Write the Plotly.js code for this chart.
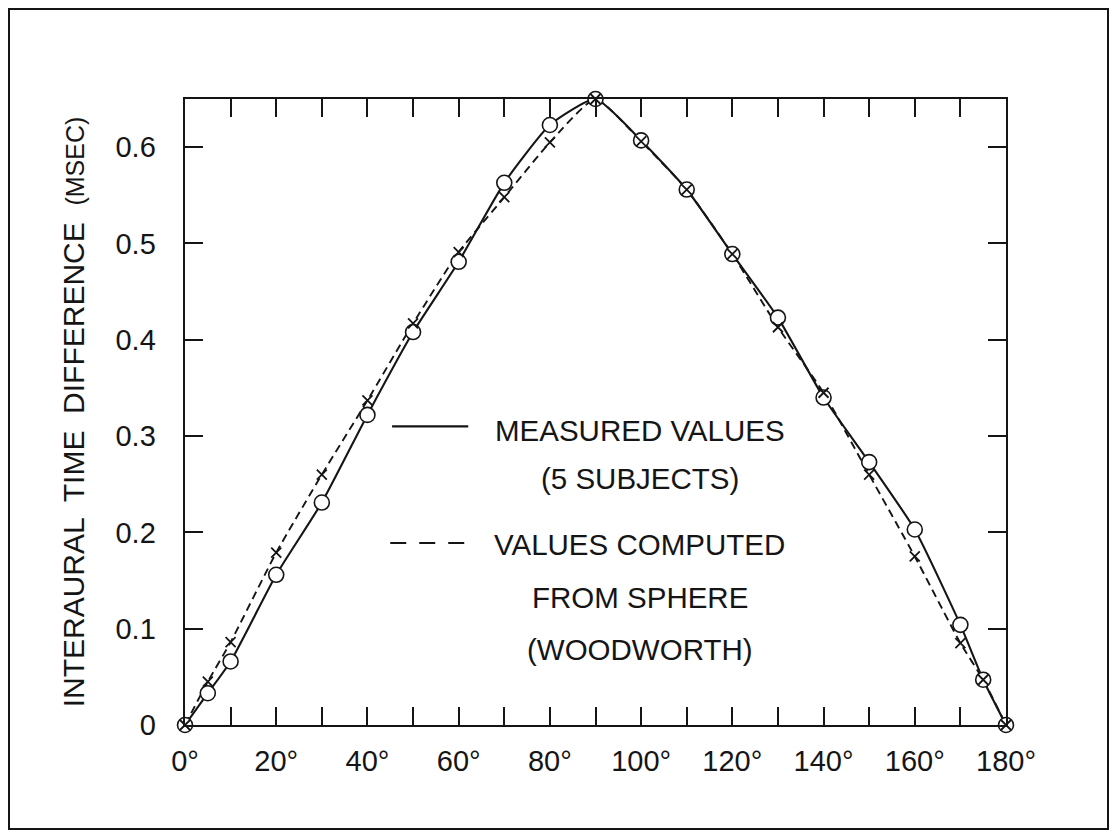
<!DOCTYPE html>
<html>
<head>
<meta charset="utf-8">
<script src="https://cdn.plot.ly/plotly-3.0.1.min.js"></script>
<style>
  html, body { margin: 0; padding: 0; background: #fff; }
  #chart { width: 1117px; height: 838px; }
</style>
</head>
<body>
<div id="chart"></div>
<script>
// Azimuth of the sound source (degrees)
const angles = [0, 5, 10, 20, 30, 40, 50, 60, 70, 80, 90, 100, 110, 120, 130, 140, 150, 160, 170, 175, 180];

// Measured interaural time difference, mean of 5 subjects (msec)
const measuredITD = [0, 0.033, 0.066, 0.156, 0.231, 0.322, 0.408, 0.481, 0.563, 0.623, 0.65,
                     0.607, 0.556, 0.489, 0.423, 0.340, 0.273, 0.203, 0.104, 0.047, 0];

// Interaural time difference computed from a sphere, Woodworth (msec)
const sphereITD = [0, 0.045, 0.086, 0.179, 0.260, 0.337, 0.417, 0.491, 0.548, 0.605, 0.65,
                   0.606, 0.556, 0.489, 0.413, 0.345, 0.260, 0.175, 0.085, 0.047, 0];

// Axis ticks
const xTickVals = [0, 10, 20, 30, 40, 50, 60, 70, 80, 90, 100, 110, 120, 130, 140, 150, 160, 170, 180];
const xTickText = ['0°', '', '20°', '', '40°', '', '60°', '', '80°', '', '100°', '', '120°', '', '140°', '', '160°', '', '180°'];
const yTickVals = [0, 0.1, 0.2, 0.3, 0.4, 0.5, 0.6];
const yTickText = ['0', '0.1', '0.2', '0.3', '0.4', '0.5', '0.6'];

// Legend wording
const legendMeasured = ['MEASURED VALUES', '(5 SUBJECTS)'];
const legendSphere = ['VALUES COMPUTED', 'FROM SPHERE', '(WOODWORTH)'];

const INK = '#151515';
const FONT = 'Liberation Sans, Arial, Helvetica, sans-serif';

const W = 1117, H = 838;
const M = { l: 185, r: 111, t: 99, b: 113 };
// convert page pixels to paper fractions (for the frame around the figure)
const px2x = p => (p - M.l) / (W - M.l - M.r);
const px2y = p => (H - M.b - p) / (H - M.t - M.b);

const traces = [
  {
    // dashed curve, drawn first so the open circles sit above it
    x: angles, y: sphereITD, type: 'scatter', mode: 'lines',
    line: { color: INK, width: 1.9, dash: '8px,5px', shape: 'spline', smoothing: 0.5 },
    hoverinfo: 'skip', showlegend: false, cliponaxis: false
  },
  {
    x: angles, y: measuredITD, type: 'scatter', mode: 'lines+markers',
    line: { color: INK, width: 2.1, shape: 'spline', smoothing: 0.5 },
    marker: { symbol: 'circle', size: 15, color: '#ffffff', line: { color: INK, width: 1.6 } },
    showlegend: false, cliponaxis: false
  },
  {
    x: angles, y: sphereITD, type: 'scatter', mode: 'markers',
    marker: { symbol: 'x-thin', size: 10, color: INK, line: { color: INK, width: 1.8 } },
    showlegend: false, cliponaxis: false
  }
];

const legendFont = { family: FONT, size: 29.5, color: INK };
const annotations = [];
const legendX = 99.7;
[0.306, 0.256].forEach((yv, i) => annotations.push({
  x: legendX, y: yv, xref: 'x', yref: 'y', text: legendMeasured[i], showarrow: false,
  xanchor: 'center', yanchor: 'middle', font: legendFont
}));
[0.187, 0.132, 0.078].forEach((yv, i) => annotations.push({
  x: legendX, y: yv, xref: 'x', yref: 'y', text: legendSphere[i], showarrow: false,
  xanchor: 'center', yanchor: 'middle', font: legendFont
}));

const shapes = [
  // legend line samples
  { type: 'line', xref: 'x', yref: 'y', x0: 45.4, x1: 62.1, y0: 0.310, y1: 0.310,
    line: { color: INK, width: 2.2 } },
  { type: 'line', xref: 'x', yref: 'y', x0: 45.0, x1: 62.1, y0: 0.189, y1: 0.189,
    line: { color: INK, width: 2.2, dash: '16px,13px' } },
  // frame round the whole figure
  { type: 'rect', xref: 'paper', yref: 'paper',
    x0: px2x(9), x1: px2x(1108), y0: px2y(829), y1: px2y(9),
    line: { color: INK, width: 2 }, fillcolor: 'rgba(0,0,0,0)', layer: 'below' }
];

const axisCommon = {
  showline: true, linecolor: INK, linewidth: 2.4, mirror: 'ticks',
  ticks: 'inside', ticklen: 18, tickwidth: 2, tickcolor: INK,
  showgrid: false, zeroline: false, fixedrange: true,
  tickfont: { family: FONT, size: 29, color: INK }
};

const layout = {
  width: W, height: H,
  margin: M,
  paper_bgcolor: '#ffffff', plot_bgcolor: '#ffffff',
  showlegend: false,
  xaxis: Object.assign({}, axisCommon, {
    range: [0, 180], tickmode: 'array', tickvals: xTickVals, ticktext: xTickText,
    ticklabelstandoff: 9
  }),
  yaxis: Object.assign({}, axisCommon, {
    range: [0, 0.65], tickmode: 'array', tickvals: yTickVals, ticktext: yTickText,
    ticklabelstandoff: 21,
    title: {
      text: 'INTERAURAL  TIME  DIFFERENCE  <span style="font-size:25px">(MSEC)</span>',
      font: { family: FONT, size: 30, color: INK },
      standoff: 22
    }
  }),
  annotations: annotations,
  shapes: shapes
};

Plotly.newPlot('chart', traces, layout, { displayModeBar: false, staticPlot: true });
</script>
</body>
</html>
